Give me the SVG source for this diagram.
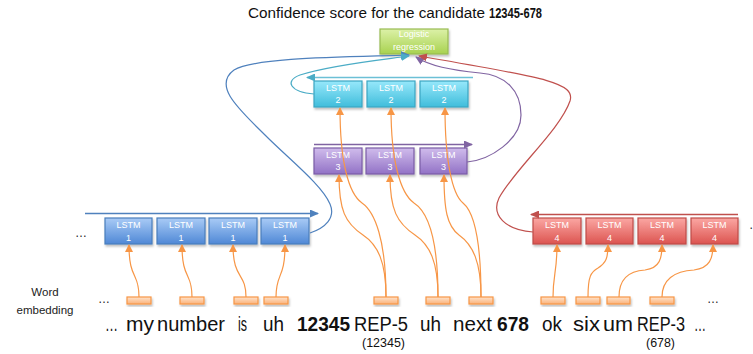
<svg xmlns="http://www.w3.org/2000/svg" width="753" height="354" viewBox="0 0 753 354">
  <defs>
    <linearGradient id="gBlue" x1="0" y1="0" x2="0" y2="1">
      <stop offset="0" stop-color="#a9cbf6"/>
      <stop offset="1" stop-color="#4f88d6"/>
    </linearGradient>
    <linearGradient id="gCyan" x1="0" y1="0" x2="0" y2="1">
      <stop offset="0" stop-color="#97e8fb"/>
      <stop offset="1" stop-color="#40bddb"/>
    </linearGradient>
    <linearGradient id="gPurple" x1="0" y1="0" x2="0" y2="1">
      <stop offset="0" stop-color="#d0bcec"/>
      <stop offset="1" stop-color="#9272c6"/>
    </linearGradient>
    <linearGradient id="gRed" x1="0" y1="0" x2="0" y2="1">
      <stop offset="0" stop-color="#fba7a3"/>
      <stop offset="1" stop-color="#dc5450"/>
    </linearGradient>
    <linearGradient id="gGreen" x1="0" y1="0" x2="0" y2="1">
      <stop offset="0" stop-color="#dcf1a8"/>
      <stop offset="1" stop-color="#a8d24f"/>
    </linearGradient>
    <linearGradient id="gOrange" x1="0" y1="0" x2="0" y2="1">
      <stop offset="0" stop-color="#fee3cc"/>
      <stop offset="1" stop-color="#fbb27a"/>
    </linearGradient>
    <filter id="shadow" x="-20%" y="-20%" width="140%" height="160%">
      <feDropShadow dx="1" dy="2" stdDeviation="1.2" flood-color="#000" flood-opacity="0.25"/>
    </filter>
    <marker id="aOrange" markerUnits="userSpaceOnUse" markerWidth="8" markerHeight="8" refX="7" refY="4" orient="auto">
      <path d="M0,0 L8,4 L0,8 z" fill="#f79646"/>
    </marker>
    <marker id="aBlue" markerUnits="userSpaceOnUse" markerWidth="9" markerHeight="8" refX="8" refY="4" orient="auto">
      <path d="M0,0 L9,4 L0,8 z" fill="#4f81bd"/>
    </marker>
    <marker id="aCyan" markerUnits="userSpaceOnUse" markerWidth="9" markerHeight="8" refX="8" refY="4" orient="auto">
      <path d="M0,0 L9,4 L0,8 z" fill="#4bacc6"/>
    </marker>
    <marker id="aPurple" markerUnits="userSpaceOnUse" markerWidth="9" markerHeight="8" refX="8" refY="4" orient="auto">
      <path d="M0,0 L9,4 L0,8 z" fill="#8064a2"/>
    </marker>
    <marker id="aRed" markerUnits="userSpaceOnUse" markerWidth="9" markerHeight="8" refX="8" refY="4" orient="auto">
      <path d="M0,0 L9,4 L0,8 z" fill="#c0504d"/>
    </marker>
  </defs>
  <style>
    text { font-family: "Liberation Sans", Arial, sans-serif; }
    .box { stroke-width: 1.2; filter: url(#shadow); }
    .l1 { fill: url(#gBlue); stroke: #4a7ebb; }
    .l2 { fill: url(#gCyan); stroke: #3ba6c2; }
    .l3 { fill: url(#gPurple); stroke: #7a5ca6; }
    .l4 { fill: url(#gRed); stroke: #be4b48; }
    .lr { fill: url(#gGreen); stroke: #98bb52; }
    .emb { fill: url(#gOrange); stroke: #f79646; stroke-width: 1.2; filter: url(#shadow); }
    .lbl { fill: #ffffff; font-size: 9px; text-anchor: middle; }
    .feed { fill: none; stroke: #f79646; stroke-width: 1.2; marker-end: url(#aOrange); }
    .word { font-size: 20px; fill: #111; }
    .b { font-weight: bold; }
    .note { font-size: 12px; fill: #111; }
    .small { font-size: 11.5px; fill: #222; text-anchor: middle; }
    .dots { font-size: 12px; fill: #222; }
  </style>

  <!-- title -->
  <text x="248" y="18" font-size="14" fill="#111" textLength="237" lengthAdjust="spacingAndGlyphs">Confidence score for the candidate</text>
  <text x="489" y="18" font-size="14" font-weight="bold" fill="#111" textLength="53" lengthAdjust="spacingAndGlyphs">12345-678</text>

  <!-- logistic regression output -->
  <g id="logistic">
    <rect class="box lr" x="380" y="29" width="68" height="25"/>
    <text class="lbl" x="414" y="37" font-size="9.5">Logistic</text>
    <text class="lbl" x="414" y="50" font-size="9.5">regression</text>
  </g>

  <!-- layer 2 -->
  <g id="lstm2-a"><rect class="box l2" x="314" y="81" width="48" height="26"/><text class="lbl" x="338" y="91">LSTM</text><text class="lbl" x="338" y="103">2</text></g>
  <g id="lstm2-b"><rect class="box l2" x="367" y="81" width="48" height="26"/><text class="lbl" x="391" y="91">LSTM</text><text class="lbl" x="391" y="103">2</text></g>
  <g id="lstm2-c"><rect class="box l2" x="420" y="81" width="48" height="26"/><text class="lbl" x="444" y="91">LSTM</text><text class="lbl" x="444" y="103">2</text></g>

  <!-- layer 3 -->
  <g id="lstm3-a"><rect class="box l3" x="314" y="148" width="48" height="26"/><text class="lbl" x="338" y="158">LSTM</text><text class="lbl" x="338" y="170">3</text></g>
  <g id="lstm3-b"><rect class="box l3" x="366" y="148" width="48" height="26"/><text class="lbl" x="390" y="158">LSTM</text><text class="lbl" x="390" y="170">3</text></g>
  <g id="lstm3-c"><rect class="box l3" x="420" y="148" width="47" height="26"/><text class="lbl" x="443.5" y="158">LSTM</text><text class="lbl" x="443.5" y="170">3</text></g>

  <!-- layer 1 -->
  <g id="lstm1-a"><rect class="box l1" x="105" y="218" width="47" height="26"/><text class="lbl" x="128.5" y="228">LSTM</text><text class="lbl" x="128.5" y="241">1</text></g>
  <g id="lstm1-b"><rect class="box l1" x="157" y="218" width="48" height="26"/><text class="lbl" x="181" y="228">LSTM</text><text class="lbl" x="181" y="241">1</text></g>
  <g id="lstm1-c"><rect class="box l1" x="209" y="218" width="48" height="26"/><text class="lbl" x="233" y="228">LSTM</text><text class="lbl" x="233" y="241">1</text></g>
  <g id="lstm1-d"><rect class="box l1" x="261" y="218" width="48" height="26"/><text class="lbl" x="285" y="228">LSTM</text><text class="lbl" x="285" y="241">1</text></g>

  <!-- layer 4 -->
  <g id="lstm4-a"><rect class="box l4" x="533" y="218" width="48" height="26"/><text class="lbl" x="557" y="228">LSTM</text><text class="lbl" x="557" y="241">4</text></g>
  <g id="lstm4-b"><rect class="box l4" x="586" y="218" width="47" height="26"/><text class="lbl" x="609.5" y="228">LSTM</text><text class="lbl" x="609.5" y="241">4</text></g>
  <g id="lstm4-c"><rect class="box l4" x="638" y="218" width="48" height="26"/><text class="lbl" x="662" y="228">LSTM</text><text class="lbl" x="662" y="241">4</text></g>
  <g id="lstm4-d"><rect class="box l4" x="691" y="218" width="47" height="26"/><text class="lbl" x="714.5" y="228">LSTM</text><text class="lbl" x="714.5" y="241">4</text></g>

  <!-- word embeddings -->
  <g id="embeddings">
    <rect class="emb" x="127" y="297" width="24" height="7"/>
    <rect class="emb" x="180" y="297" width="24" height="7"/>
    <rect class="emb" x="234" y="297" width="24" height="7"/>
    <rect class="emb" x="264" y="297" width="24" height="7"/>
    <rect class="emb" x="374" y="297" width="24" height="7"/>
    <rect class="emb" x="426" y="297" width="24" height="7"/>
    <rect class="emb" x="469" y="297" width="24" height="7"/>
    <rect class="emb" x="541" y="297" width="24" height="7"/>
    <rect class="emb" x="576" y="297" width="24" height="7"/>
    <rect class="emb" x="607" y="297" width="23" height="7"/>
    <rect class="emb" x="650" y="297" width="24" height="7"/>
  </g>

  <g id="connectors">
    <!-- sequence direction arrows above each layer -->
    <path d="M85,213.5 H318" fill="none" stroke="#4f81bd" stroke-width="1.3" marker-end="url(#aBlue)"/>
    <path d="M473,77.5 H307" fill="none" stroke="#6cc0d6" stroke-width="1.3" marker-end="url(#aCyan)"/>
    <path d="M314,144.5 H472" fill="none" stroke="#8064a2" stroke-width="1.3" marker-end="url(#aPurple)"/>
    <path d="M738,214.5 H531" fill="none" stroke="#c0504d" stroke-width="1.3" marker-end="url(#aRed)"/>

    <!-- final states into the classifier -->
    <path d="M310,233 C325,228 336,218 330,204 C322,185 290,160 265,135 C240,110 212,86 234,70 C255,57 350,57 409,55" fill="none" stroke="#4f81bd" stroke-width="1.2" marker-end="url(#aBlue)"/>
    <path d="M314,94 C290,92 284,81 300,75 C330,65 380,60 409,56" fill="none" stroke="#4bacc6" stroke-width="1.2" marker-end="url(#aCyan)"/>
    <path d="M467,162 C490,160 521,140 521,115 C521,90 505,75 480,73 C450,70 430,66 416,57" fill="none" stroke="#8064a2" stroke-width="1.2" marker-end="url(#aPurple)"/>
    <path d="M533,232 C505,230 491,215 499,198 C514,170 560,130 570,101 C576,82 540,77 419,56" fill="none" stroke="#c0504d" stroke-width="1.2" marker-end="url(#aRed)"/>

    <!-- embeddings into layer 1 -->
    <path class="feed" d="M139,297 C139,272 129,280 129,245"/>
    <path class="feed" d="M192,297 C192,272 182,280 182,245"/>
    <path class="feed" d="M246,297 C246,272 233,280 233,245"/>
    <path class="feed" d="M276,297 C276,272 285,280 285,245"/>

    <!-- embeddings into layer 4 -->
    <path class="feed" d="M553,297 C553,275 557,272 557,245"/>
    <path class="feed" d="M588,297 C588,276 591,272 598,268 C606,263 608,258 608,245"/>
    <path class="feed" d="M619,297 C619,280 628,271 645,270 C660,268 662,258 662,245"/>
    <path class="feed" d="M662,297 C662,280 674,271 694,270 C710,268 713,258 713,245"/>

    <!-- embeddings into layers 3 and 2 -->
    <path class="feed" d="M386,297 C386,262 378,245 363,235 C345,223 339,210 339,175"/>
    <path class="feed" d="M386,297 C386,240 375,212 362,203 C348,193 340,160 340,108"/>
    <path class="feed" d="M438,297 C438,262 430,245 415,235 C397,223 390,210 390,175"/>
    <path class="feed" d="M438,297 C438,240 428,212 414,203 C400,193 391,160 391,108"/>
    <path class="feed" d="M481,297 C481,262 473,245 459,235 C447,226 444,210 444,175"/>
    <path class="feed" d="M481,297 C481,240 474,212 463,203 C452,194 445,160 445,108"/>
  </g>

  <!-- side labels and ellipses -->
  <text class="small" x="45" y="296">Word</text>
  <text class="small" x="45" y="314">embedding</text>
  <text class="dots" x="75" y="237">…</text>
  <text class="dots" x="98" y="303">…</text>
  <text class="dots" x="707" y="303">…</text>
  <text class="dots" x="749" y="229">…</text>

  <!-- transcript -->
  <text class="word" x="105" y="331" textLength="13" lengthAdjust="spacingAndGlyphs">…</text>
  <text class="word" x="126" y="331" textLength="28" lengthAdjust="spacingAndGlyphs">my</text>
  <text class="word" x="157" y="331" textLength="68" lengthAdjust="spacingAndGlyphs">number</text>
  <text class="word" x="238" y="331" textLength="9" lengthAdjust="spacingAndGlyphs">is</text>
  <text class="word" x="263" y="331" textLength="21" lengthAdjust="spacingAndGlyphs">uh</text>
  <text class="word b" x="297" y="331" textLength="53" lengthAdjust="spacingAndGlyphs">12345</text>
  <text class="word" x="354" y="331" textLength="54" lengthAdjust="spacingAndGlyphs">REP-5</text>
  <text class="word" x="420" y="331" textLength="21" lengthAdjust="spacingAndGlyphs">uh</text>
  <text class="word" x="453" y="331" textLength="39" lengthAdjust="spacingAndGlyphs">next</text>
  <text class="word b" x="497" y="331" textLength="32" lengthAdjust="spacingAndGlyphs">678</text>
  <text class="word" x="542" y="331" textLength="20" lengthAdjust="spacingAndGlyphs">ok</text>
  <text class="word" x="573" y="331" textLength="27" lengthAdjust="spacingAndGlyphs">six</text>
  <text class="word" x="603" y="331" textLength="30" lengthAdjust="spacingAndGlyphs">um</text>
  <text class="word" x="637" y="331" textLength="48" lengthAdjust="spacingAndGlyphs">REP-3</text>
  <text class="word" x="694" y="331" textLength="12" lengthAdjust="spacingAndGlyphs">…</text>
  <text class="note" x="362" y="347" textLength="43" lengthAdjust="spacingAndGlyphs">(12345)</text>
  <text class="note" x="646" y="347" textLength="29" lengthAdjust="spacingAndGlyphs">(678)</text>
</svg>
